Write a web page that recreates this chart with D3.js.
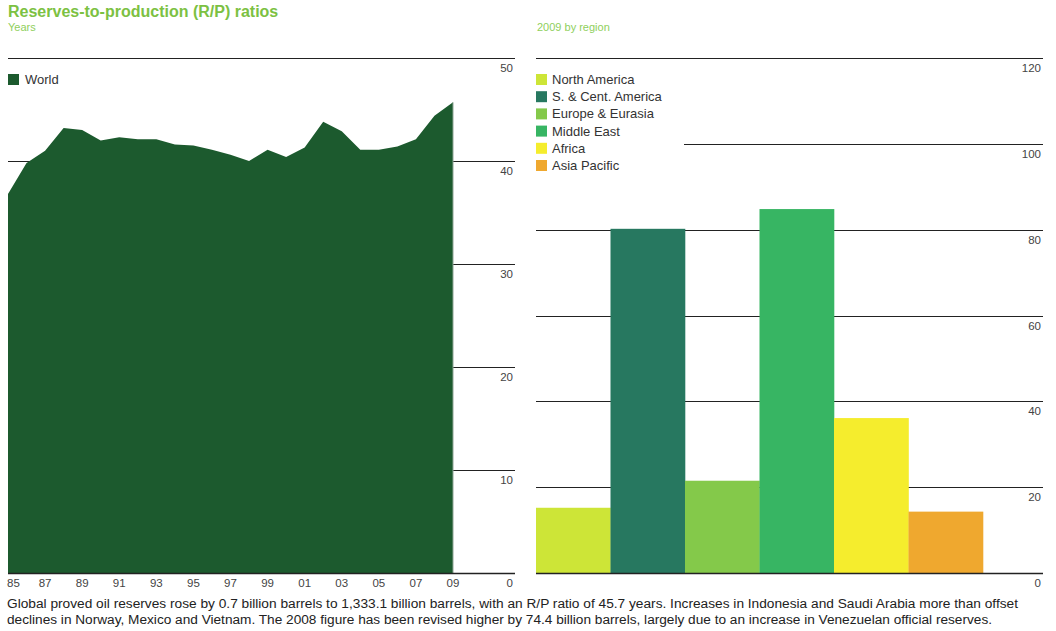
<!DOCTYPE html>
<html>
<head>
<meta charset="utf-8">
<script src="https://cdn.jsdelivr.net/npm/d3@7"></script>
<style>
  html, body { margin: 0; padding: 0; background: #fff; }
  svg { display: block; font-family: "Liberation Sans", Arial, sans-serif; }
</style>
</head>
<body>
<svg id="chart" width="1056" height="631"></svg>
<script>
// ---- Data ----
const years = [1985,1986,1987,1988,1989,1990,1991,1992,1993,1994,1995,1996,1997,1998,1999,2000,2001,2002,2003,2004,2005,2006,2007,2008,2009];
const worldRP = [36.8,39.8,41.0,43.2,43.0,42.0,42.3,42.1,42.1,41.6,41.5,41.1,40.6,40.0,41.1,40.4,41.3,43.8,42.9,41.1,41.1,41.4,42.1,44.4,45.7];
const xTickYears = [1985,1987,1989,1991,1993,1995,1997,1999,2001,2003,2005,2007,2009];
const leftYTicks = [10,20,30,40,50];
const regions = ["North America","S. & Cent. America","Europe & Eurasia","Middle East","Africa","Asia Pacific"];
const regionRP = [15.2,80.2,21.5,84.8,36.1,14.3];
const regionColors = ["#cde537","#277860","#84c94a","#37b563","#f5ed2d","#efa82f"];
const rightYTicks = [20,40,60,80,100,120];

const svg = d3.select("#chart");

// ---- Titles ----
svg.append("text").attr("x", 8).attr("y", 17)
  .attr("font-size", 16).attr("font-weight", "bold").attr("fill", "#7cc142")
  .text("Reserves-to-production (R/P) ratios");
svg.append("text").attr("x", 8).attr("y", 31)
  .attr("font-size", 11).attr("fill", "#8fcf5c").text("Years");
svg.append("text").attr("x", 537).attr("y", 31)
  .attr("font-size", 11).attr("fill", "#8fcf5c").text("2009 by region");

// ---- Left chart ----
const xL = d3.scaleLinear().domain([1985, 2009]).range([8, 453]);
const yL = d3.scaleLinear().domain([0, 50]).range([573, 58]);
const leftX0 = 8, leftX1 = 515;

const gL = svg.append("g");
gL.selectAll("line.grid").data(leftYTicks).enter().append("line")
  .attr("x1", leftX0).attr("x2", leftX1)
  .attr("y1", d => Math.round(yL(d)) + 0.5).attr("y2", d => Math.round(yL(d)) + 0.5)
  .attr("stroke", "#222").attr("stroke-width", 1.2);

const area = d3.area().x((d, i) => xL(years[i])).y0(yL(0)).y1(d => yL(d));
gL.append("path").datum(worldRP).attr("d", area).attr("fill", "#1c5a2e");
gL.append("line")
  .attr("x1", xL(2009)).attr("x2", xL(2009))
  .attr("y1", yL(worldRP[worldRP.length - 1])).attr("y2", yL(0))
  .attr("stroke", "#8da595").attr("stroke-width", 1);

gL.append("line").attr("x1", leftX0).attr("x2", leftX1)
  .attr("y1", yL(0) + 0.5).attr("y2", yL(0) + 0.5)
  .attr("stroke", "#222").attr("stroke-width", 1.5);

gL.selectAll("text.ylab").data([0].concat(leftYTicks)).enter().append("text")
  .attr("x", 513).attr("y", d => yL(d) + 14)
  .attr("text-anchor", "end").attr("font-size", 11.5).attr("fill", "#444")
  .text(d => d);

gL.selectAll("text.xlab").data(xTickYears).enter().append("text")
  .attr("x", (d, i) => i === 0 ? xL(d) - 1 : xL(d))
  .attr("y", 587)
  .attr("text-anchor", (d, i) => i === 0 ? "start" : "middle")
  .attr("font-size", 11.5).attr("fill", "#444")
  .text(d => String(d).slice(2));

// Left legend
svg.append("rect").attr("x", 8).attr("y", 74).attr("width", 11).attr("height", 11).attr("fill", "#1c5a2e");
svg.append("text").attr("x", 25).attr("y", 84).attr("font-size", 13).attr("fill", "#333").text("World");

// ---- Right chart ----
const xR = d3.scaleBand().domain(regions).range([536, 983]).padding(0);
const yR = d3.scaleLinear().domain([0, 120]).range([573, 58]);
const rightX0 = 536, rightX1 = 1043;

const gR = svg.append("g");
gR.selectAll("line.grid").data(rightYTicks).enter().append("line")
  .attr("x1", d => d === 100 ? 684 : rightX0).attr("x2", rightX1)
  .attr("y1", d => Math.round(yR(d)) + 0.5).attr("y2", d => Math.round(yR(d)) + 0.5)
  .attr("stroke", "#222").attr("stroke-width", 1.2);

gR.selectAll("rect.bar").data(regionRP).enter().append("rect")
  .attr("x", (d, i) => xR(regions[i]))
  .attr("width", xR.bandwidth() + 0.3)
  .attr("y", d => yR(d))
  .attr("height", d => yR(0) - yR(d))
  .attr("fill", (d, i) => regionColors[i]);

gR.append("line").attr("x1", rightX0).attr("x2", rightX1)
  .attr("y1", yR(0) + 0.5).attr("y2", yR(0) + 0.5)
  .attr("stroke", "#222").attr("stroke-width", 1.5);

gR.selectAll("text.ylab").data([0].concat(rightYTicks)).enter().append("text")
  .attr("x", 1041).attr("y", d => yR(d) + 14)
  .attr("text-anchor", "end").attr("font-size", 11.5).attr("fill", "#444")
  .text(d => d);

// Right legend
const leg = svg.append("g");
regions.forEach((r, i) => {
  const top = 74 + i * 17.2;
  leg.append("rect").attr("x", 536).attr("y", top).attr("width", 11).attr("height", 11).attr("fill", regionColors[i]);
  leg.append("text").attr("x", 552).attr("y", top + 10).attr("font-size", 13).attr("fill", "#333").text(r);
});

// ---- Footnote ----
const note1 = "Global proved oil reserves rose by 0.7 billion barrels to 1,333.1 billion barrels, with an R/P ratio of 45.7 years. Increases in Indonesia and Saudi Arabia more than offset";
const note2 = "declines in Norway, Mexico and Vietnam. The 2008 figure has been revised higher by 74.4 billion barrels, largely due to an increase in Venezuelan official reserves.";
svg.append("text").attr("x", 7).attr("y", 608).attr("font-size", 12.3).attr("fill", "#222")
  .attr("textLength", 1011).attr("lengthAdjust", "spacingAndGlyphs").text(note1);
svg.append("text").attr("x", 7).attr("y", 624).attr("font-size", 12.3).attr("fill", "#222")
  .attr("textLength", 985).attr("lengthAdjust", "spacingAndGlyphs").text(note2);
</script>
</body>
</html>
